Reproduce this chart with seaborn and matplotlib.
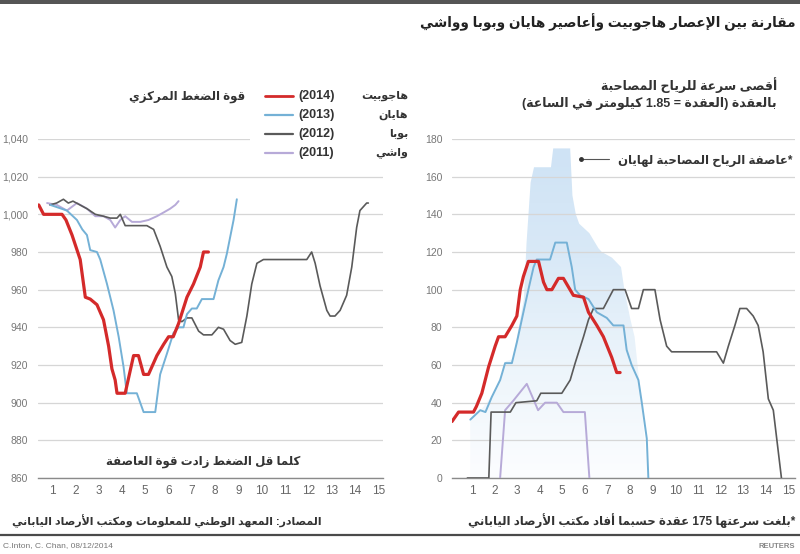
import re
import numpy as np
import pandas as pd
import matplotlib
matplotlib.use("Agg")
import matplotlib.pyplot as plt
from matplotlib.lines import Line2D
from matplotlib.patches import Rectangle
from matplotlib.colors import LinearSegmentedColormap
import seaborn as sns

# ---------------- data ----------------
days_ticks = list(range(1, 16))
p_ticks = [860, 880, 900, 920, 940, 960, 980, 1000, 1020, 1040]
w_ticks = [0, 20, 40, 60, 80, 100, 120, 140, 160, 180]

# central pressure (hPa)
hag_p_day = [0.43, 0.64, 1.43, 1.6, 1.86, 2.21, 2.43, 2.64, 2.93, 3.21, 3.43, 3.57, 3.71, 3.79, 4.14,
             4.5, 4.71, 4.93, 5.14, 5.5, 5.79, 6.0, 6.2, 6.43, 6.79, 7.07, 7.36, 7.5, 7.71]
hag_p = [1005, 1000, 1000, 997, 989, 976, 956, 955, 952, 944, 930, 918, 912, 905, 905,
         925, 925, 915, 915, 925, 931, 935, 935, 942, 956, 963, 972, 980, 980]

hai_p_day = [0.93, 1.64, 2.07, 2.3, 2.5, 2.64, 2.93, 3.07, 3.36, 3.64, 3.86, 4.07, 4.21, 4.64, 4.93,
             5.43, 5.64, 5.93, 6.21, 6.43, 6.64, 6.79, 7.0, 7.21, 7.43, 7.93, 8.14, 8.36, 8.5, 8.79, 8.93]
hai_p = [1005, 1002, 997, 992, 989, 981, 980, 976, 963, 949, 935, 919, 905, 905, 895,
         895, 915, 926, 937, 940, 940, 947, 950, 950, 955, 955, 965, 972, 979, 997, 1008]

bop_p_day = [0.91, 1.2, 1.49, 1.7, 1.9, 2.2, 2.5, 2.86, 3.21, 3.5, 3.79, 3.93, 4.14, 5.07, 5.36,
             5.64, 5.93, 6.14, 6.29, 6.43, 6.57, 6.79, 7.0, 7.29, 7.5, 7.86, 8.14, 8.36, 8.64, 8.86,
             9.14, 9.36, 9.57, 9.79, 10.07, 11.93, 12.14, 12.29, 12.5, 12.79, 12.93, 13.14, 13.36,
             13.64, 13.86, 14.07, 14.21, 14.5, 14.57]
bop_p = [1005, 1006, 1008, 1006, 1007, 1005, 1003, 1000, 999, 998, 998, 1000, 994, 994, 992,
         983, 972, 967, 958, 944, 943, 945, 945, 938, 936, 936, 940, 939, 933, 931,
         932, 946, 963, 974, 976, 976, 980, 974, 962, 949, 946, 946, 949,
         957, 972, 993, 1002, 1006, 1006]

was_p_day = [0.79, 1.21, 1.64, 2.07, 2.5, 2.86, 3.21, 3.5, 3.71, 3.93, 4.14, 4.43, 4.79, 5.14,
             5.5, 5.79, 6.07, 6.29, 6.43]
was_p = [1006, 1005, 1002, 1006, 1003, 999, 999, 997, 993, 997, 999, 996, 996, 997,
         999, 1001, 1003, 1005, 1007]

# maximum sustained wind (knots)
hag_w_day = [0.12, 0.41, 1.07, 1.2, 1.44, 1.74, 2.03, 2.18, 2.47, 2.77, 2.99, 3.14, 3.28, 3.5, 3.95,
             4.17, 4.32, 4.54, 4.83, 5.05, 5.49, 5.94, 6.16, 6.53, 6.82, 7.19, 7.41, 7.56]
hag_w = [30, 35, 35, 38, 45, 59, 70, 75, 75, 81, 86, 100, 107, 115, 115,
         104, 100, 100, 106, 106, 97, 96, 88, 81, 75, 64, 56, 56]

hai_w_day = [0.93, 1.37, 1.6, 1.88, 2.25, 2.47, 2.77, 2.99, 3.28, 3.5, 3.73, 3.87, 4.46, 4.69, 5.2,
             5.42, 5.57, 5.79, 6.16, 6.53, 6.97, 7.26, 7.71, 7.85, 8.07, 8.37, 8.52, 8.74, 8.81]
hai_w = [31, 36, 35, 43, 52, 61, 61, 72, 88, 100, 112, 116, 116, 125, 125,
         112, 100, 97, 95, 88, 85, 81, 81, 68, 60, 52, 40, 21, 0]

bop_w_day = [0.8, 1.75, 1.85, 2.7, 2.95, 3.87, 4.05, 4.98, 5.35, 5.57, 5.94, 6.16, 6.38, 6.82, 7.26,
             7.78, 8.07, 8.37, 8.59, 9.1, 9.33, 9.62, 9.84, 11.83, 12.13, 12.35, 12.64, 12.86,
             13.16, 13.45, 13.67, 13.89, 14.12, 14.34, 14.56, 14.7]
bop_w = [0, 0, 35, 35, 40, 41, 45, 45, 52, 61, 75, 84, 90, 90, 100,
         100, 90, 90, 100, 100, 84, 70, 67, 67, 61, 70, 81, 90,
         90, 86, 81, 67, 42, 36, 14, 0]

was_w_day = [2.25, 2.47, 2.83, 3.43, 3.93, 4.24, 4.76, 5.05, 6.0, 6.2]
was_w = [0, 36, 41, 50, 36, 40, 40, 35, 35, 0]

# Haiyan gusts (shaded band)
gust_day = [0.93, 1.4, 1.9, 2.3, 2.5, 2.8, 3.0, 3.3, 3.42, 3.6, 3.75, 4.5, 4.6, 5.35, 5.45, 5.6,
            5.75, 6.2, 6.6, 6.75, 7.2, 7.6, 7.75, 8.0, 8.2, 8.5, 8.74, 8.8]
gust = [31, 36, 44, 54, 62, 63, 75, 95, 125, 157, 165, 165, 175, 175, 150, 140,
        135, 130, 122, 120, 117, 112, 100, 85, 75, 41, 5, 0]

years = ["(2014)", "(2013)", "(2012)", "(2011)"]
names = ["هاجوبيت", "هايان", "بوبا", "واشي"]
colors = ["#d42a2a", "#74b1d6", "#5a5a5a", "#b7aad8"]
widths = [2.3, 1.4, 1.2, 1.4]

# ---------------- Arabic shaping helpers ----------------
DUAL = {'ئ': 0xFE89, 'ب': 0xFE8F, 'ت': 0xFE95, 'ث': 0xFE99, 'ج': 0xFE9D, 'ح': 0xFEA1, 'خ': 0xFEA5,
        'س': 0xFEB1, 'ش': 0xFEB5, 'ص': 0xFEB9, 'ض': 0xFEBD, 'ط': 0xFEC1, 'ظ': 0xFEC5, 'ع': 0xFEC9,
        'غ': 0xFECD, 'ف': 0xFED1, 'ق': 0xFED5, 'ك': 0xFED9, 'ل': 0xFEDD, 'م': 0xFEE1, 'ن': 0xFEE5,
        'ه': 0xFEE9, 'ي': 0xFEF1}
RIGHT = {'آ': 0xFE81, 'أ': 0xFE83, 'ؤ': 0xFE85, 'إ': 0xFE87, 'ا': 0xFE8D, 'ة': 0xFE93, 'د': 0xFEA9,
         'ذ': 0xFEAB, 'ر': 0xFEAD, 'ز': 0xFEAF, 'و': 0xFEED, 'ى': 0xFEEF}
LAMALEF = {'آ': 0xFEF5, 'أ': 0xFEF7, 'إ': 0xFEF9, 'ا': 0xFEFB}


def _is_ar(c):
    return c in DUAL or c in RIGHT or c == 'ء'


def _shape(text):
    out, i, n = [], 0, len(text)
    while i < n:
        c = text[i]
        pj = i > 0 and text[i - 1] in DUAL and _is_ar(c)
        if c == 'ل' and i + 1 < n and text[i + 1] in LAMALEF:
            out.append(chr(LAMALEF[text[i + 1]] + (1 if pj else 0)))
            i += 2
            continue
        if c in DUAL:
            nj = i + 1 < n and _is_ar(text[i + 1])
            idx = 3 if (pj and nj) else 1 if pj else 2 if nj else 0
            out.append(chr(DUAL[c] + idx))
        elif c in RIGHT:
            out.append(chr(RIGHT[c] + (1 if pj else 0)))
        elif c == 'ء':
            out.append('\uFE80')
        else:
            out.append(c)
        i += 1
    return ''.join(out)


def ar(text):
    s = _shape(text)
    runs = re.findall(r'[0-9A-Za-z][0-9A-Za-z.,/]*|[^0-9A-Za-z]+', s)
    mirror = {'(': ')', ')': '('}
    res = []
    for r in reversed(runs):
        if re.match(r'[0-9A-Za-z]', r):
            res.append(r)
        else:
            res.append(''.join(mirror.get(ch, ch) for ch in reversed(r)))
    return ''.join(res)


# ---------------- figure ----------------
sns.set_theme(style="white")
plt.rcParams['font.family'] = ['Liberation Sans', 'DejaVu Sans']
AR_FONT = ['Liberation Sans', 'DejaVu Sans']
NARROW = ['Liberation Sans Narrow', 'Liberation Sans', 'DejaVu Sans']

W, H = 800, 554
fig = plt.figure(figsize=(8, 5.54), dpi=100)
fig.patch.set_facecolor('white')


def fx(x):
    return x / W


def fy(y):
    return 1 - y / H


axL = fig.add_axes([fx(38), fy(478), fx(383 - 38), (478 - 139) / H])
axR = fig.add_axes([fx(452), fy(478), fx(795 - 452), (478 - 139) / H])

p_series = [(hag_p_day, hag_p), (hai_p_day, hai_p), (bop_p_day, bop_p), (was_p_day, was_p)]
w_series = [(hag_w_day, hag_w), (hai_w_day, hai_w), (bop_w_day, bop_w), (was_w_day, was_w)]

# gust band with vertical gradient
band = axR.fill_between(gust_day, 0, gust, color='none', lw=0)
cmap = LinearSegmentedColormap.from_list('band', ['#fcfdff', '#edf5fb', '#d9e9f7', '#cfe3f5'])
grad = np.linspace(0, 1, 256).reshape(-1, 1)
im = axR.imshow(grad, extent=[min(gust_day), max(gust_day), 0, max(gust)], origin='lower',
                aspect='auto', cmap=cmap, zorder=0.3, interpolation='bilinear')
im.set_clip_path(band.get_paths()[0], transform=axR.transData)

order = [3, 2, 1, 0]  # draw 2014 on top
for k in order:
    d, v = p_series[k]
    sns.lineplot(x=d, y=v, ax=axL, color=colors[k], lw=widths[k], sort=False,
                 estimator=None, legend=False, zorder=3 + (3 - k))
    d, v = w_series[k]
    sns.lineplot(x=d, y=v, ax=axR, color=colors[k], lw=widths[k], sort=False,
                 estimator=None, legend=False, zorder=3 + (3 - k))

for ax, yt, ylim, xlim in [(axL, p_ticks, (860, 1040), (0.4, 15.2)),
                           (axR, w_ticks, (0, 180), (0.12, 15.3))]:
    ax.set_facecolor('white')
    ax.set_xlim(*xlim)
    ax.set_ylim(*ylim)
    ax.set_yticks(yt)
    ax.set_xticks(days_ticks)
    ax.set_xticks(np.arange(1.5, 15, 1), minor=True)
    ax.set_axisbelow(True)
    ax.grid(axis='y', color='#d6d6d6', lw=0.9)
    ax.grid(axis='x', visible=False)
    for s in ['top', 'right', 'left']:
        ax.spines[s].set_visible(False)
    ax.spines['bottom'].set_color('#8a8a8a')
    ax.spines['bottom'].set_linewidth(1.0)
    ax.tick_params(axis='x', which='major', length=0, pad=5, labelsize=8.5, labelcolor='#666')
    ax.tick_params(axis='x', which='minor', length=8, width=0.8, color='#999', direction='out')
    ax.tick_params(axis='y', length=0, pad=7, labelsize=7.5, labelcolor='#777')
    ax.set_xlabel('')
    ax.set_ylabel('')
    for lab in ax.get_xticklabels():
        lab.set_family(NARROW)

axL.set_yticklabels([f"{t:,}" for t in p_ticks])

# ---------------- decorations ----------------
fig.add_artist(Rectangle((0, fy(4)), 1, 4 / H, transform=fig.transFigure, color='#555555', lw=0))
fig.add_artist(Line2D([0, 1], [fy(535), fy(535)], transform=fig.transFigure, color='#4a4a4a', lw=1.6))

fig.text(fx(795), fy(22), ar("مقارنة بين الإعصار هاجوبيت وأعاصير هايان وبوبا وواشي"),
         ha='right', va='center', fontsize=9.8, fontweight='bold', family=AR_FONT, color='#222')

# left panel header + legend
fig.add_artist(Rectangle((fx(250), fy(165)), fx(165), 80 / H, transform=fig.transFigure,
                         color='white', lw=0, zorder=2))
fig.text(fx(245), fy(97), ar("قوة الضغط المركزي"), ha='right', va='center', fontsize=8.5,
         fontweight='bold', family=AR_FONT, color='#333', zorder=3)
rows_y = [96, 115, 134, 153]
for k in range(4):
    y = rows_y[k]
    fig.add_artist(Line2D([fx(265), fx(293)], [fy(y), fy(y)], transform=fig.transFigure,
                          color=colors[k], lw=2.0 if k == 0 else 1.6, zorder=3))
    fig.text(fx(298), fy(y), years[k], ha='left', va='center', fontsize=9, fontweight='bold',
             color='#333', zorder=3)
    fig.text(fx(408), fy(y), ar(names[k]), ha='right', va='center', fontsize=8,
             fontweight='bold', family=AR_FONT, color='#333', zorder=3)

fig.text(fx(203), fy(462), ar("كلما قل الضغط زادت قوة العاصفة"), ha='center', va='center',
         fontsize=8.5, fontweight='bold', family=AR_FONT, color='#333')

# right panel header
fig.text(fx(777), fy(85), ar("أقصى سرعة للرياح المصاحبة"), ha='right', va='center',
         fontsize=9, fontweight='bold', family=AR_FONT, color='#333')
fig.text(fx(777), fy(103), ar("بالعقدة (العقدة = 1.85 كيلومتر في الساعة)"), ha='right',
         va='center', fontsize=9, fontweight='bold', family=AR_FONT, color='#333')

# annotation for Haiyan gusts
fig.text(fx(792), fy(161), ar("*عاصفة الرياح المصاحبة لهايان"), ha='right', va='center',
         fontsize=8.5, fontweight='bold', family=AR_FONT, color='#333', zorder=3)
fig.add_artist(Line2D([fx(581), fx(609)], [fy(159), fy(159)], transform=fig.transFigure,
                      color='#555', lw=0.8, zorder=3))
fig.add_artist(Line2D([fx(581)], [fy(159)], transform=fig.transFigure, marker='o',
                      markersize=2.5, color='#333', lw=0, zorder=3))

# footers
fig.text(fx(322), fy(521), ar("المصادر: المعهد الوطني للمعلومات ومكتب الأرصاد الياباني"),
         ha='right', va='center', fontsize=7.9, fontweight='bold', family=AR_FONT, color='#333')
fig.text(fx(795), fy(521), ar("*بلغت سرعتها 175 عقدة حسبما أفاد مكتب الأرصاد الياباني"),
         ha='right', va='center', fontsize=8.5, fontweight='bold', family=AR_FONT, color='#333')
fig.text(fx(3), fy(546), "C.Inton, C. Chan, 08/12/2014", ha='left', va='center', fontsize=6,
         color='#777', family=NARROW)
fig.text(fx(795), fy(546), "REUTERS", ha='right', va='center', fontsize=5.5, fontweight='bold',
         color='#888')

fig.savefig("out.png", dpi=100, facecolor='white')
